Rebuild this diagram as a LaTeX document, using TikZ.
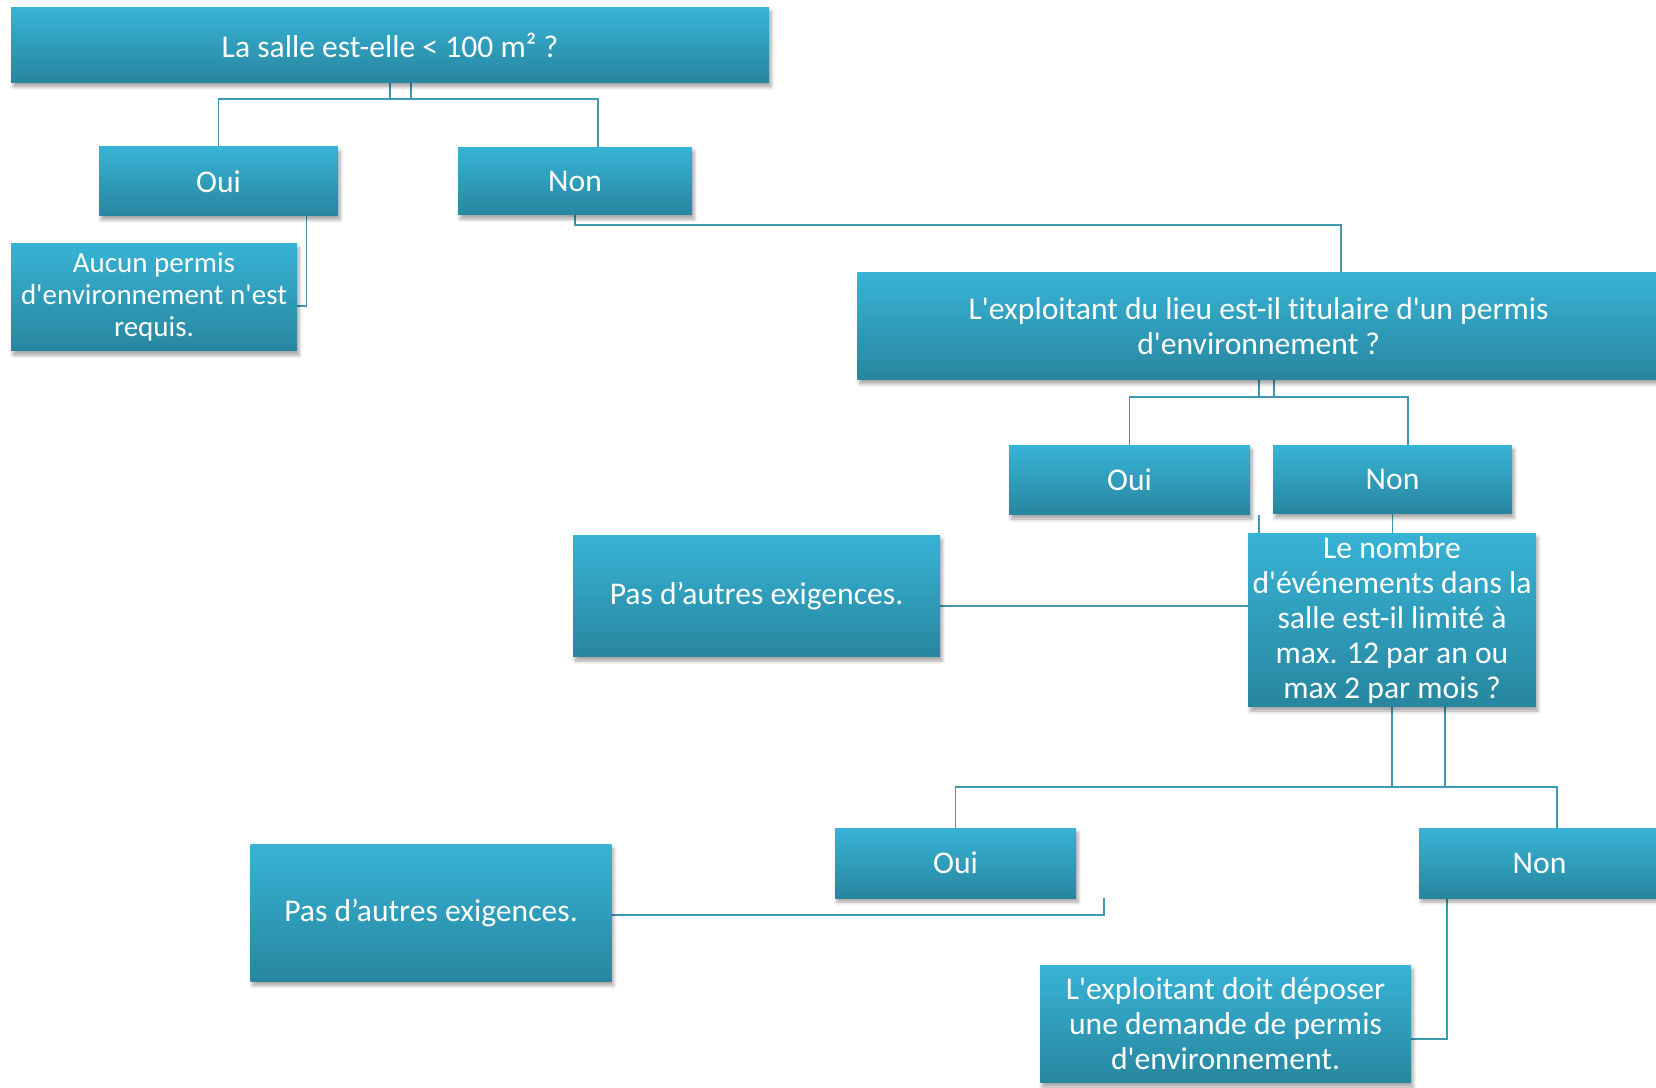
\documentclass[tikz,border=0pt]{standalone}
\usepackage{fontspec}
\setmainfont{Carlito}[Ligatures={TeXOff,NoCommon}]
\usetikzlibrary{calc,shadows.blur}
\pgfdeclarelayer{background}
\pgfsetlayers{background,main}
\definecolor{tealtop}{RGB}{55,179,214}
\definecolor{tealbot}{RGB}{40,134,159}
\definecolor{wirecol}{RGB}{64,152,178}
\tikzset{
  tile/.style={rectangle, top color=tealtop, bottom color=tealbot, text=white,
    align=center, inner sep=0pt, font=\fontsize{18}{19.9}\selectfont,
    blur shadow={shadow xshift=1.2pt, shadow yshift=-2.4pt, shadow opacity=35, shadow blur steps=6}},
  boxsize/.style 2 args={minimum width=#1*0.02cm, minimum height=#2*0.02cm},
  wire/.style={draw=wirecol, line width=1.1pt},
}

\begin{document}
\begin{tikzpicture}[x=0.02cm, y=-0.02cm]
    \useasboundingbox (0, 0) rectangle (1656, 1088);
    % Q1
    \node [tile, boxsize={758}{75.4}]   (q1)    at (390, 45)      {La salle est-elle < 100 m² ?};
    \node [tile, boxsize={239}{68.7}]   (oui1)  at (218.5, 181.3) {Oui};
    \node [tile, boxsize={234}{67.7}]   (non1)  at (575, 181)     {Non};
    \node [tile, boxsize={286}{107.7}, font=\fontsize{16.5}{18.4}\selectfont]
                                        (aucun) at (154, 297)     {Aucun permis\\d'environnement n'est\\requis.};
    % Q2
    \node [tile, boxsize={802.5}{107.5}] (q2)   at (1258.7, 326)  {L'exploitant du lieu est-il titulaire d'un permis\\d'environnement ?};
    \node [tile, boxsize={241}{69.7}]   (oui2)  at (1129.5, 480)  {Oui};
    \node [tile, boxsize={239}{68.7}]   (non2)  at (1392.5, 479.4) {Non};
    \node [tile, boxsize={367}{121.7}]  (pas1)  at (756.5, 596)   {Pas d’autres exigences.};
    % Q3
    \node [tile, boxsize={287.6}{173.7}] (q3)   at (1392, 620)    {Le nombre\\d'événements dans la\\salle est-il limité à\\max. 12 par an ou\\max 2 par mois ?};
    \node [tile, boxsize={241}{70}]     (oui3)  at (955.5, 863)   {Oui};
    \node [tile, boxsize={241}{70}]     (non3)  at (1539.5, 863)  {Non};
    \node [tile, boxsize={361}{136.7}]  (pas2)  at (431, 913)     {Pas d’autres exigences.};
    \node [tile, boxsize={371}{117.7}]  (doit)  at (1225.5, 1024) {L'exploitant doit déposer\\une demande de permis\\d'environnement.};

    \begin{pgfonlayer}{background}
    % Q1
    \draw [wire] ($(q1.south)+(21, 0)$) -- ++(0, 16) -| (oui1.north);
    \draw [wire] (q1.south) -- ++(0, 16) -| ($(non1.north)+(23, 0)$);
    \draw [wire] ($(oui1.south)+(88, 0)$) |- ($(aucun.east)+(0, 9)$);
    \draw [wire] (non1.south) -- ++(0, 9.5) -| ($(q2.north)+(82, 0)$);
    % Q2
    \draw [wire] ($(q2.south)+(15.5, 0)$) -- ++(0, 16.7) -| (oui2.north);
    \draw [wire] (q2.south) -- ++(0, 16.7) -| ($(non2.north)+(15.5, 0)$);
    \draw [wire] (non2.south) -- (non2.south |- q3.north);
    \draw [wire] ($(oui2.south east)+(9, 0)$) |- ($(pas1.east)+(0, 10)$);
    % Q3
    \draw [wire] ($(q3.south)+(52.6, 0)$) -- ++(0, 80) -| (oui3.north);
    \draw [wire] (q3.south) -- ++(0, 80) -| ($(non3.north)+(17.5, 0)$);
    \draw [wire] ($(oui3.south east)+(28, 0)$) |- ($(pas2.east)+(0, 2)$);
    \draw [wire] ($(non3.south west)+(28.4, 0)$) |- ($(doit.east)+(0, 14.7)$);
    \end{pgfonlayer}
\end{tikzpicture}
\end{document}
